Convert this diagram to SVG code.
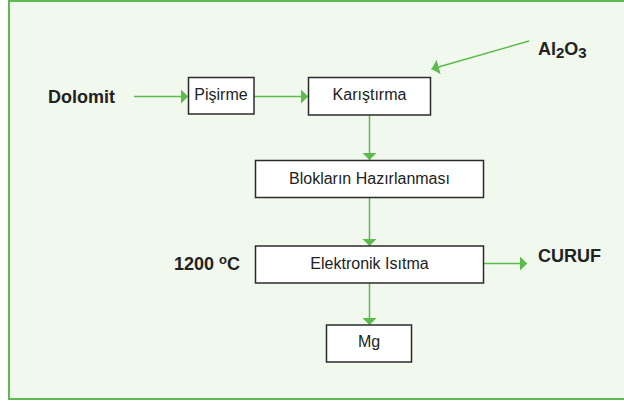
<svg xmlns="http://www.w3.org/2000/svg" width="624" height="401" viewBox="0 0 624 401">
<defs>
<style>
.box{fill:#ffffff;stroke:#2b2b2b;stroke-width:1.5}
.lbl{font-family:"Liberation Sans",Arial,sans-serif;font-size:16px;fill:#222;text-anchor:middle}
.bold{font-family:"Liberation Sans",Arial,sans-serif;font-size:18px;font-weight:bold;fill:#222}
.con{stroke:#5cbb4c;stroke-width:1.5;fill:none;marker-end:url(#ah)}
</style>
<marker id="ah" markerUnits="userSpaceOnUse" markerWidth="8" markerHeight="16" refX="7.5" refY="7.5" orient="auto" viewBox="0 0 8 16">
<path d="M0,0 L7.5,7.5 L0,15 Z" fill="#5cbb4c"/>
</marker>
</defs>
<rect x="0" y="0" width="624" height="401" fill="#ffffff"/>
<rect x="9" y="1" width="640" height="398" fill="#f1f8ee" stroke="#5cbb4c" stroke-width="2"/>
<g id="connectors">
<line class="con" x1="134" y1="96.5" x2="188" y2="96.5"/>
<line class="con" x1="254" y1="96.5" x2="308" y2="96.5"/>
<line class="con" x1="529" y1="41" x2="431.5" y2="69"/>
<line class="con" x1="369.5" y1="115" x2="369.5" y2="160"/>
<line class="con" x1="369.5" y1="198" x2="369.5" y2="246"/>
<line class="con" x1="483" y1="263.5" x2="527" y2="263.5"/>
<line class="con" x1="369.5" y1="283" x2="369.5" y2="325"/>
</g>
<g id="dolomit"><text class="bold" x="48" y="103">Dolomit</text></g>
<g id="al2o3"><text class="bold" x="538" y="55">Al<tspan font-size="15" dy="3">2</tspan><tspan dy="-3">O</tspan><tspan font-size="15" dy="3">3</tspan></text></g>
<g id="temp"><text class="bold" x="174" y="270">1200 <tspan font-size="13" dy="-6">o</tspan><tspan dy="6">C</tspan></text></g>
<g id="curuf"><text class="bold" x="538" y="262">CURUF</text></g>
<g id="pisirme"><rect class="box" x="188.5" y="77.5" width="65.5" height="36.5"/><text class="lbl" x="221" y="99.5" font-size="15.5">Pişirme</text></g>
<g id="karistirma"><rect class="box" x="308.5" y="77.5" width="122" height="37.5"/><text class="lbl" x="369.5" y="99.5">Karıştırma</text></g>
<g id="bloklar"><rect class="box" x="255.5" y="160.5" width="228" height="37"/><text class="lbl" x="369.5" y="183.5" font-size="16.5">Blokların Hazırlanması</text></g>
<g id="elektronik"><rect class="box" x="255.5" y="246" width="228" height="37"/><text class="lbl" x="369.5" y="268.5" font-size="16.5">Elektronik Isıtma</text></g>
<g id="mg"><rect class="box" x="326.5" y="325" width="85" height="37"/><text class="lbl" x="369" y="347">Mg</text></g>
</svg>
